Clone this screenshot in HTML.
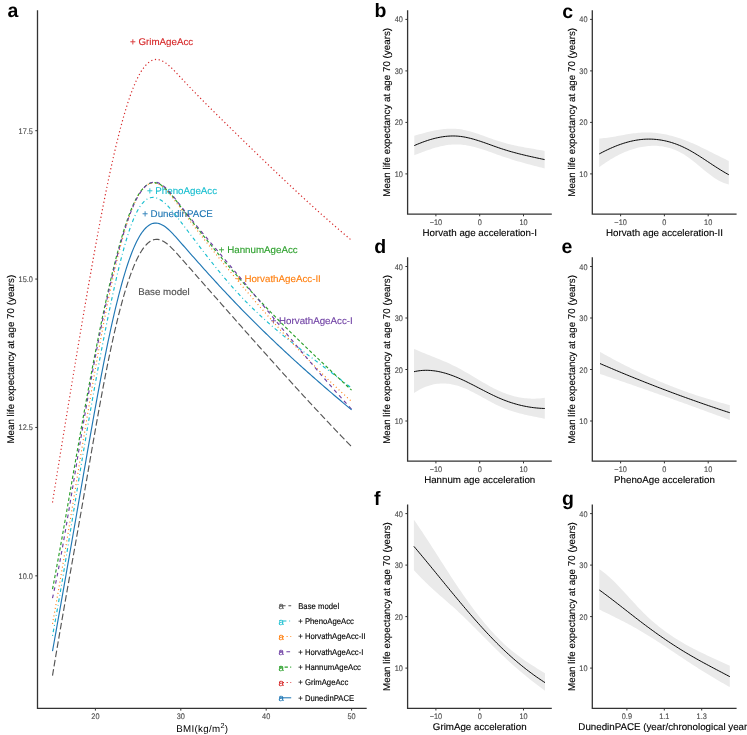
<!DOCTYPE html>
<html><head><meta charset="utf-8"><style>
html,body{margin:0;padding:0;background:#fff;width:747px;height:735px;overflow:hidden;}
body{position:relative;font-family:"Liberation Sans", sans-serif;}
</style></head><body>
<svg width="747" height="735" viewBox="0 0 747 735" style="position:absolute;left:0;top:0;will-change:transform">
<rect x="0" y="0" width="747" height="735" fill="#ffffff"/>
<g font-family='"Liberation Sans", sans-serif' text-rendering="geometricPrecision">
<text x="0" y="0" font-size="19.5" fill="#000" text-anchor="start" font-weight="bold" transform="translate(7.60,17.40)">a</text>
<text x="0" y="0" font-size="19.5" fill="#000" text-anchor="start" font-weight="bold" transform="translate(374.60,17.30)">b</text>
<text x="0" y="0" font-size="19.5" fill="#000" text-anchor="start" font-weight="bold" transform="translate(562.20,17.50)">c</text>
<text x="0" y="0" font-size="19.5" fill="#000" text-anchor="start" font-weight="bold" transform="translate(374.30,252.90)">d</text>
<text x="0" y="0" font-size="19.5" fill="#000" text-anchor="start" font-weight="bold" transform="translate(561.60,252.90)">e</text>
<text x="0" y="0" font-size="19.5" fill="#000" text-anchor="start" font-weight="bold" transform="translate(374.00,505.20)">f</text>
<text x="0" y="0" font-size="19.5" fill="#000" text-anchor="start" font-weight="bold" transform="translate(562.00,505.20)">g</text>
<path d="M37.5,10.2 L37.5,708.4 L366.7,708.4" fill="none" stroke="#333" stroke-width="1.3" stroke-linecap="butt"/>
<line x1="35.3" y1="575.83" x2="37.5" y2="575.83" stroke="#333333" stroke-width="1"/>
<text x="0" y="0" font-size="7.35" fill="#4D4D4D" stroke="#4D4D4D" stroke-width="0.12" text-anchor="end" font-weight="normal" transform="translate(32.90,578.83) scale(1,1.1)">10.0</text>
<line x1="35.3" y1="427.45" x2="37.5" y2="427.45" stroke="#333333" stroke-width="1"/>
<text x="0" y="0" font-size="7.35" fill="#4D4D4D" stroke="#4D4D4D" stroke-width="0.12" text-anchor="end" font-weight="normal" transform="translate(32.90,430.45) scale(1,1.1)">12.5</text>
<line x1="35.3" y1="279.07" x2="37.5" y2="279.07" stroke="#333333" stroke-width="1"/>
<text x="0" y="0" font-size="7.35" fill="#4D4D4D" stroke="#4D4D4D" stroke-width="0.12" text-anchor="end" font-weight="normal" transform="translate(32.90,282.07) scale(1,1.1)">15.0</text>
<line x1="35.3" y1="130.70" x2="37.5" y2="130.70" stroke="#333333" stroke-width="1"/>
<text x="0" y="0" font-size="7.35" fill="#4D4D4D" stroke="#4D4D4D" stroke-width="0.12" text-anchor="end" font-weight="normal" transform="translate(32.90,133.70) scale(1,1.1)">17.5</text>
<line x1="95.40" y1="708.4" x2="95.40" y2="710.6" stroke="#333333" stroke-width="1"/>
<text x="0" y="0" font-size="7.35" fill="#4D4D4D" stroke="#4D4D4D" stroke-width="0.12" text-anchor="middle" font-weight="normal" transform="translate(95.40,718.80) scale(1,1.1)">20</text>
<line x1="180.80" y1="708.4" x2="180.80" y2="710.6" stroke="#333333" stroke-width="1"/>
<text x="0" y="0" font-size="7.35" fill="#4D4D4D" stroke="#4D4D4D" stroke-width="0.12" text-anchor="middle" font-weight="normal" transform="translate(180.80,718.80) scale(1,1.1)">30</text>
<line x1="266.20" y1="708.4" x2="266.20" y2="710.6" stroke="#333333" stroke-width="1"/>
<text x="0" y="0" font-size="7.35" fill="#4D4D4D" stroke="#4D4D4D" stroke-width="0.12" text-anchor="middle" font-weight="normal" transform="translate(266.20,718.80) scale(1,1.1)">40</text>
<line x1="351.60" y1="708.4" x2="351.60" y2="710.6" stroke="#333333" stroke-width="1"/>
<text x="0" y="0" font-size="7.35" fill="#4D4D4D" stroke="#4D4D4D" stroke-width="0.12" text-anchor="middle" font-weight="normal" transform="translate(351.60,718.80) scale(1,1.1)">50</text>
<text x="0" y="0" font-size="9.75" fill="#000" text-anchor="middle" letter-spacing="0.3" transform="translate(202.3,731.7)">BMI(kg/m<tspan font-size="7.3" dy="-3.9">2</tspan><tspan dy="3.9">)</tspan></text>
<text x="0" y="0" font-size="9.8" fill="#000" stroke="#000" stroke-width="0.12" text-anchor="middle" font-weight="normal" transform="translate(14.20,359.20) rotate(-90)">Mean life expectancy at age 70 (years)</text>
<text x="0" y="0" font-size="9.75" fill="#D62728" stroke="#D62728" stroke-width="0.12" text-anchor="middle" font-weight="normal" transform="translate(161.60,45.20)">+ GrimAgeAcc</text>
<text x="0" y="0" font-size="9.75" fill="#17BECF" stroke="#17BECF" stroke-width="0.12" text-anchor="middle" font-weight="normal" transform="translate(182.00,193.90)">+ PhenoAgeAcc</text>
<text x="0" y="0" font-size="9.75" fill="#1F77B4" stroke="#1F77B4" stroke-width="0.12" text-anchor="middle" font-weight="normal" transform="translate(177.50,217.10)">+ DunedinPACE</text>
<text x="0" y="0" font-size="9.75" fill="#2CA02C" stroke="#2CA02C" stroke-width="0.12" text-anchor="middle" font-weight="normal" transform="translate(258.20,253.00)">+ HannumAgeAcc</text>
<text x="0" y="0" font-size="9.75" fill="#FF7F0E" stroke="#FF7F0E" stroke-width="0.12" text-anchor="middle" font-weight="normal" transform="translate(278.40,282.30)">+ HorvathAgeAcc-II</text>
<text x="0" y="0" font-size="9.75" fill="#4D4D4D" stroke="#4D4D4D" stroke-width="0.12" text-anchor="middle" font-weight="normal" transform="translate(163.90,294.80)">Base model</text>
<text x="0" y="0" font-size="9.75" fill="#6E3FA3" stroke="#6E3FA3" stroke-width="0.12" text-anchor="middle" font-weight="normal" transform="translate(311.70,323.70)">+ HorvathAgeAcc-I</text>
<path d="M52.50,675.66 L54.00,666.54 L55.51,657.53 L57.01,648.62 L58.51,639.80 L60.02,631.06 L61.52,622.40 L63.02,613.79 L64.52,605.24 L66.03,596.74 L67.53,588.26 L69.03,579.81 L70.54,571.38 L72.04,562.95 L73.54,554.52 L75.05,546.08 L76.55,537.61 L78.05,529.11 L79.55,520.57 L81.06,511.98 L82.56,503.34 L84.06,494.67 L85.57,485.98 L87.07,477.28 L88.57,468.59 L90.08,459.92 L91.58,451.27 L93.08,442.67 L94.58,434.13 L96.09,425.65 L97.59,417.25 L99.09,408.95 L100.60,400.76 L102.10,392.68 L103.60,384.73 L105.11,376.93 L106.61,369.28 L108.11,361.81 L109.61,354.51 L111.12,347.41 L112.62,340.51 L114.12,333.81 L115.63,327.32 L117.13,321.04 L118.63,314.97 L120.14,309.12 L121.64,303.48 L123.14,298.07 L124.64,292.88 L126.15,287.92 L127.65,283.19 L129.15,278.69 L130.66,274.43 L132.16,270.42 L133.66,266.64 L135.17,263.11 L136.67,259.83 L138.17,256.80 L139.67,254.02 L141.18,251.48 L142.68,249.19 L144.18,247.13 L145.69,245.32 L147.19,243.75 L148.69,242.42 L150.20,241.33 L151.70,240.47 L153.20,239.84 L154.71,239.45 L156.21,239.30 L157.71,239.36 L159.21,239.63 L160.72,240.09 L162.22,240.73 L163.72,241.53 L165.23,242.49 L166.73,243.58 L168.23,244.80 L169.74,246.13 L171.24,247.55 L172.74,249.05 L174.24,250.62 L175.75,252.25 L177.25,253.91 L178.75,255.60 L180.26,257.31 L181.76,259.01 L183.26,260.71 L184.77,262.42 L186.27,264.12 L187.77,265.83 L189.27,267.53 L190.78,269.24 L192.28,270.94 L193.78,272.65 L195.29,274.35 L196.79,276.06 L198.29,277.76 L199.80,279.47 L201.30,281.17 L202.80,282.88 L204.30,284.59 L205.81,286.29 L207.31,288.00 L208.81,289.70 L210.32,291.41 L211.82,293.11 L213.32,294.82 L214.83,296.52 L216.33,298.23 L217.83,299.93 L219.33,301.64 L220.84,303.34 L222.34,305.05 L223.84,306.75 L225.35,308.46 L226.85,310.16 L228.35,311.86 L229.86,313.57 L231.36,315.27 L232.86,316.97 L234.36,318.67 L235.87,320.37 L237.37,322.07 L238.87,323.77 L240.38,325.47 L241.88,327.17 L243.38,328.87 L244.89,330.57 L246.39,332.27 L247.89,333.96 L249.39,335.66 L250.90,337.35 L252.40,339.04 L253.90,340.74 L255.41,342.43 L256.91,344.12 L258.41,345.81 L259.92,347.50 L261.42,349.18 L262.92,350.87 L264.43,352.55 L265.93,354.24 L267.43,355.92 L268.93,357.60 L270.44,359.28 L271.94,360.96 L273.44,362.63 L274.95,364.31 L276.45,365.98 L277.95,367.65 L279.46,369.32 L280.96,370.99 L282.46,372.65 L283.96,374.32 L285.47,375.98 L286.97,377.64 L288.47,379.30 L289.98,380.96 L291.48,382.61 L292.98,384.26 L294.49,385.91 L295.99,387.56 L297.49,389.21 L298.99,390.85 L300.50,392.49 L302.00,394.13 L303.50,395.77 L305.01,397.41 L306.51,399.04 L308.01,400.67 L309.52,402.30 L311.02,403.92 L312.52,405.54 L314.02,407.16 L315.53,408.78 L317.03,410.39 L318.53,412.00 L320.04,413.61 L321.54,415.22 L323.04,416.82 L324.55,418.42 L326.05,420.02 L327.55,421.61 L329.05,423.20 L330.56,424.79 L332.06,426.38 L333.56,427.96 L335.07,429.54 L336.57,431.11 L338.07,432.68 L339.58,434.25 L341.08,435.82 L342.58,437.38 L344.08,438.94 L345.59,440.49 L347.09,442.04 L348.59,443.59 L350.10,445.13 L351.60,446.68" fill="none" stroke="#555555" stroke-width="1.15" stroke-dasharray="6.6 2.8"/>
<path d="M52.50,635.83 L54.00,627.76 L55.51,619.51 L57.01,611.10 L58.51,602.55 L60.02,593.86 L61.52,585.05 L63.02,576.14 L64.52,567.14 L66.03,558.06 L67.53,548.91 L69.03,539.72 L70.54,530.48 L72.04,521.23 L73.54,511.96 L75.05,502.71 L76.55,493.46 L78.05,484.25 L79.55,475.09 L81.06,465.98 L82.56,456.94 L84.06,447.97 L85.57,439.08 L87.07,430.25 L88.57,421.51 L90.08,412.85 L91.58,404.28 L93.08,395.79 L94.58,387.40 L96.09,379.10 L97.59,370.91 L99.09,362.81 L100.60,354.83 L102.10,346.95 L103.60,339.19 L105.11,331.54 L106.61,324.01 L108.11,316.61 L109.61,309.33 L111.12,302.19 L112.62,295.18 L114.12,288.33 L115.63,281.64 L117.13,275.13 L118.63,268.81 L120.14,262.69 L121.64,256.78 L123.14,251.11 L124.64,245.67 L126.15,240.48 L127.65,235.55 L129.15,230.90 L130.66,226.54 L132.16,222.48 L133.66,218.73 L135.17,215.31 L136.67,212.22 L138.17,209.46 L139.67,207.00 L141.18,204.86 L142.68,203.01 L144.18,201.44 L145.69,200.14 L147.19,199.11 L148.69,198.33 L150.20,197.79 L151.70,197.49 L153.20,197.41 L154.71,197.54 L156.21,197.87 L157.71,198.40 L159.21,199.10 L160.72,199.97 L162.22,200.99 L163.72,202.16 L165.23,203.46 L166.73,204.88 L168.23,206.41 L169.74,208.03 L171.24,209.74 L172.74,211.52 L174.24,213.36 L175.75,215.25 L177.25,217.18 L178.75,219.14 L180.26,221.11 L181.76,223.08 L183.26,225.06 L184.77,227.04 L186.27,229.02 L187.77,231.01 L189.27,232.99 L190.78,234.98 L192.28,236.96 L193.78,238.95 L195.29,240.93 L196.79,242.90 L198.29,244.88 L199.80,246.85 L201.30,248.81 L202.80,250.77 L204.30,252.72 L205.81,254.67 L207.31,256.61 L208.81,258.54 L210.32,260.46 L211.82,262.36 L213.32,264.26 L214.83,266.15 L216.33,268.02 L217.83,269.89 L219.33,271.73 L220.84,273.57 L222.34,275.39 L223.84,277.19 L225.35,278.98 L226.85,280.74 L228.35,282.50 L229.86,284.23 L231.36,285.94 L232.86,287.63 L234.36,289.31 L235.87,290.97 L237.37,292.60 L238.87,294.23 L240.38,295.83 L241.88,297.41 L243.38,298.98 L244.89,300.53 L246.39,302.07 L247.89,303.59 L249.39,305.09 L250.90,306.58 L252.40,308.06 L253.90,309.52 L255.41,310.96 L256.91,312.39 L258.41,313.81 L259.92,315.21 L261.42,316.60 L262.92,317.98 L264.43,319.34 L265.93,320.70 L267.43,322.04 L268.93,323.37 L270.44,324.69 L271.94,325.99 L273.44,327.29 L274.95,328.58 L276.45,329.86 L277.95,331.12 L279.46,332.38 L280.96,333.63 L282.46,334.87 L283.96,336.10 L285.47,337.33 L286.97,338.55 L288.47,339.75 L289.98,340.96 L291.48,342.15 L292.98,343.34 L294.49,344.53 L295.99,345.70 L297.49,346.88 L298.99,348.04 L300.50,349.21 L302.00,350.36 L303.50,351.52 L305.01,352.67 L306.51,353.81 L308.01,354.96 L309.52,356.10 L311.02,357.24 L312.52,358.37 L314.02,359.51 L315.53,360.64 L317.03,361.77 L318.53,362.90 L320.04,364.03 L321.54,365.16 L323.04,366.29 L324.55,367.42 L326.05,368.55 L327.55,369.68 L329.05,370.81 L330.56,371.95 L332.06,373.08 L333.56,374.22 L335.07,375.36 L336.57,376.51 L338.07,377.65 L339.58,378.80 L341.08,379.96 L342.58,381.12 L344.08,382.28 L345.59,383.45 L347.09,384.62 L348.59,385.80 L350.10,386.99 L351.60,388.18" fill="none" stroke="#17BECF" stroke-width="1.15" stroke-dasharray="0.9 2.8 3.7 2.8"/>
<path d="M52.50,623.79 L54.00,615.55 L55.51,607.19 L57.01,598.70 L58.51,590.10 L60.02,581.40 L61.52,572.60 L63.02,563.72 L64.52,554.76 L66.03,545.74 L67.53,536.66 L69.03,527.52 L70.54,518.35 L72.04,509.15 L73.54,499.92 L75.05,490.68 L76.55,481.44 L78.05,472.20 L79.55,462.98 L81.06,453.78 L82.56,444.61 L84.06,435.48 L85.57,426.40 L87.07,417.37 L88.57,408.40 L90.08,399.50 L91.58,390.67 L93.08,381.93 L94.58,373.29 L96.09,364.74 L97.59,356.29 L99.09,347.96 L100.60,339.75 L102.10,331.67 L103.60,323.73 L105.11,315.93 L106.61,308.29 L108.11,300.80 L109.61,293.48 L111.12,286.33 L112.62,279.36 L114.12,272.59 L115.63,266.00 L117.13,259.63 L118.63,253.46 L120.14,247.51 L121.64,241.79 L123.14,236.30 L124.64,231.05 L126.15,226.05 L127.65,221.30 L129.15,216.81 L130.66,212.60 L132.16,208.66 L133.66,205.00 L135.17,201.64 L136.67,198.57 L138.17,195.79 L139.67,193.30 L141.18,191.10 L142.68,189.17 L144.18,187.50 L145.69,186.11 L147.19,184.97 L148.69,184.09 L150.20,183.46 L151.70,183.07 L153.20,182.92 L154.71,183.00 L156.21,183.31 L157.71,183.84 L159.21,184.57 L160.72,185.48 L162.22,186.56 L163.72,187.81 L165.23,189.20 L166.73,190.72 L168.23,192.35 L169.74,194.09 L171.24,195.91 L172.74,197.81 L174.24,199.76 L175.75,201.76 L177.25,203.79 L178.75,205.84 L180.26,207.89 L181.76,209.93 L183.26,211.96 L184.77,213.98 L186.27,216.00 L187.77,218.00 L189.27,220.00 L190.78,221.98 L192.28,223.96 L193.78,225.93 L195.29,227.89 L196.79,229.85 L198.29,231.79 L199.80,233.73 L201.30,235.66 L202.80,237.59 L204.30,239.50 L205.81,241.41 L207.31,243.31 L208.81,245.21 L210.32,247.10 L211.82,248.99 L213.32,250.86 L214.83,252.73 L216.33,254.60 L217.83,256.46 L219.33,258.32 L220.84,260.17 L222.34,262.01 L223.84,263.85 L225.35,265.69 L226.85,267.52 L228.35,269.35 L229.86,271.17 L231.36,272.99 L232.86,274.81 L234.36,276.62 L235.87,278.42 L237.37,280.23 L238.87,282.03 L240.38,283.82 L241.88,285.61 L243.38,287.40 L244.89,289.18 L246.39,290.96 L247.89,292.73 L249.39,294.50 L250.90,296.26 L252.40,298.02 L253.90,299.77 L255.41,301.52 L256.91,303.27 L258.41,305.01 L259.92,306.74 L261.42,308.47 L262.92,310.20 L264.43,311.92 L265.93,313.63 L267.43,315.34 L268.93,317.05 L270.44,318.75 L271.94,320.44 L273.44,322.13 L274.95,323.82 L276.45,325.50 L277.95,327.17 L279.46,328.84 L280.96,330.50 L282.46,332.15 L283.96,333.80 L285.47,335.45 L286.97,337.09 L288.47,338.72 L289.98,340.35 L291.48,341.97 L292.98,343.59 L294.49,345.20 L295.99,346.80 L297.49,348.40 L298.99,349.99 L300.50,351.57 L302.00,353.15 L303.50,354.73 L305.01,356.29 L306.51,357.85 L308.01,359.41 L309.52,360.95 L311.02,362.49 L312.52,364.03 L314.02,365.55 L315.53,367.07 L317.03,368.59 L318.53,370.09 L320.04,371.59 L321.54,373.09 L323.04,374.57 L324.55,376.05 L326.05,377.53 L327.55,378.99 L329.05,380.45 L330.56,381.90 L332.06,383.34 L333.56,384.78 L335.07,386.21 L336.57,387.63 L338.07,389.04 L339.58,390.45 L341.08,391.85 L342.58,393.24 L344.08,394.62 L345.59,396.00 L347.09,397.37 L348.59,398.73 L350.10,400.08 L351.60,401.43" fill="none" stroke="#FF7F0E" stroke-width="1.15" stroke-dasharray="1 2.8"/>
<path d="M52.50,589.08 L54.00,581.24 L55.51,573.29 L57.01,565.22 L58.51,557.06 L60.02,548.81 L61.52,540.48 L63.02,532.08 L64.52,523.62 L66.03,515.11 L67.53,506.56 L69.03,497.98 L70.54,489.38 L72.04,480.77 L73.54,472.16 L75.05,463.56 L76.55,454.97 L78.05,446.42 L79.55,437.91 L81.06,429.44 L82.56,421.03 L84.06,412.68 L85.57,404.40 L87.07,396.18 L88.57,388.04 L90.08,379.98 L91.58,372.00 L93.08,364.11 L94.58,356.32 L96.09,348.62 L97.59,341.03 L99.09,333.54 L100.60,326.17 L102.10,318.91 L103.60,311.78 L105.11,304.77 L106.61,297.90 L108.11,291.16 L109.61,284.57 L111.12,278.12 L112.62,271.82 L114.12,265.69 L115.63,259.72 L117.13,253.92 L118.63,248.31 L120.14,242.89 L121.64,237.66 L123.14,232.63 L124.64,227.82 L126.15,223.22 L127.65,218.85 L129.15,214.71 L130.66,210.81 L132.16,207.15 L133.66,203.75 L135.17,200.60 L136.67,197.72 L138.17,195.11 L139.67,192.75 L141.18,190.65 L142.68,188.80 L144.18,187.20 L145.69,185.84 L147.19,184.72 L148.69,183.85 L150.20,183.20 L151.70,182.79 L153.20,182.60 L154.71,182.64 L156.21,182.89 L157.71,183.35 L159.21,184.01 L160.72,184.85 L162.22,185.86 L163.72,187.02 L165.23,188.32 L166.73,189.75 L168.23,191.29 L169.74,192.93 L171.24,194.66 L172.74,196.46 L174.24,198.32 L175.75,200.23 L177.25,202.18 L178.75,204.14 L180.26,206.10 L181.76,208.07 L183.26,210.03 L184.77,211.98 L186.27,213.93 L187.77,215.87 L189.27,217.81 L190.78,219.74 L192.28,221.66 L193.78,223.58 L195.29,225.49 L196.79,227.40 L198.29,229.30 L199.80,231.19 L201.30,233.08 L202.80,234.96 L204.30,236.83 L205.81,238.70 L207.31,240.56 L208.81,242.42 L210.32,244.26 L211.82,246.10 L213.32,247.93 L214.83,249.76 L216.33,251.58 L217.83,253.38 L219.33,255.19 L220.84,256.98 L222.34,258.77 L223.84,260.55 L225.35,262.32 L226.85,264.08 L228.35,265.83 L229.86,267.58 L231.36,269.31 L232.86,271.04 L234.36,272.76 L235.87,274.47 L237.37,276.18 L238.87,277.87 L240.38,279.56 L241.88,281.24 L243.38,282.92 L244.89,284.58 L246.39,286.24 L247.89,287.89 L249.39,289.53 L250.90,291.17 L252.40,292.80 L253.90,294.42 L255.41,296.04 L256.91,297.64 L258.41,299.25 L259.92,300.84 L261.42,302.43 L262.92,304.01 L264.43,305.59 L265.93,307.16 L267.43,308.73 L268.93,310.29 L270.44,311.84 L271.94,313.39 L273.44,314.93 L274.95,316.47 L276.45,318.00 L277.95,319.52 L279.46,321.05 L280.96,322.56 L282.46,324.07 L283.96,325.58 L285.47,327.08 L286.97,328.58 L288.47,330.07 L289.98,331.56 L291.48,333.05 L292.98,334.53 L294.49,336.00 L295.99,337.48 L297.49,338.94 L298.99,340.41 L300.50,341.87 L302.00,343.33 L303.50,344.78 L305.01,346.23 L306.51,347.68 L308.01,349.13 L309.52,350.57 L311.02,352.01 L312.52,353.44 L314.02,354.88 L315.53,356.31 L317.03,357.74 L318.53,359.16 L320.04,360.59 L321.54,362.01 L323.04,363.43 L324.55,364.85 L326.05,366.27 L327.55,367.68 L329.05,369.09 L330.56,370.51 L332.06,371.92 L333.56,373.33 L335.07,374.73 L336.57,376.14 L338.07,377.55 L339.58,378.95 L341.08,380.36 L342.58,381.76 L344.08,383.17 L345.59,384.57 L347.09,385.97 L348.59,387.37 L350.10,388.78 L351.60,390.18" fill="none" stroke="#2CA02C" stroke-width="1.15" stroke-dasharray="3.3 2.3"/>
<path d="M52.50,598.16 L54.00,591.27 L55.51,584.07 L57.01,576.59 L58.51,568.86 L60.02,560.88 L61.52,552.70 L63.02,544.32 L64.52,535.77 L66.03,527.08 L67.53,518.26 L69.03,509.33 L70.54,500.33 L72.04,491.28 L73.54,482.18 L75.05,473.08 L76.55,463.98 L78.05,454.92 L79.55,445.91 L81.06,436.97 L82.56,428.12 L84.06,419.37 L85.57,410.70 L87.07,402.13 L88.57,393.66 L90.08,385.30 L91.58,377.04 L93.08,368.89 L94.58,360.85 L96.09,352.93 L97.59,345.14 L99.09,337.46 L100.60,329.92 L102.10,322.50 L103.60,315.23 L105.11,308.08 L106.61,301.08 L108.11,294.23 L109.61,287.52 L111.12,280.97 L112.62,274.57 L114.12,268.34 L115.63,262.28 L117.13,256.40 L118.63,250.69 L120.14,245.18 L121.64,239.86 L123.14,234.75 L124.64,229.84 L126.15,225.15 L127.65,220.67 L129.15,216.43 L130.66,212.42 L132.16,208.64 L133.66,205.12 L135.17,201.84 L136.67,198.83 L138.17,196.06 L139.67,193.56 L141.18,191.30 L142.68,189.30 L144.18,187.54 L145.69,186.04 L147.19,184.78 L148.69,183.76 L150.20,182.98 L151.70,182.45 L153.20,182.15 L154.71,182.09 L156.21,182.27 L157.71,182.66 L159.21,183.27 L160.72,184.07 L162.22,185.04 L163.72,186.19 L165.23,187.47 L166.73,188.90 L168.23,190.44 L169.74,192.08 L171.24,193.82 L172.74,195.62 L174.24,197.49 L175.75,199.40 L177.25,201.34 L178.75,203.29 L180.26,205.25 L181.76,207.19 L183.26,209.12 L184.77,211.04 L186.27,212.94 L187.77,214.84 L189.27,216.73 L190.78,218.60 L192.28,220.47 L193.78,222.32 L195.29,224.17 L196.79,226.01 L198.29,227.84 L199.80,229.67 L201.30,231.49 L202.80,233.30 L204.30,235.11 L205.81,236.91 L207.31,238.71 L208.81,240.50 L210.32,242.29 L211.82,244.07 L213.32,245.86 L214.83,247.64 L216.33,249.41 L217.83,251.19 L219.33,252.97 L220.84,254.74 L222.34,256.52 L223.84,258.29 L225.35,260.07 L226.85,261.84 L228.35,263.62 L229.86,265.41 L231.36,267.19 L232.86,268.98 L234.36,270.77 L235.87,272.56 L237.37,274.35 L238.87,276.15 L240.38,277.95 L241.88,279.75 L243.38,281.55 L244.89,283.36 L246.39,285.17 L247.89,286.97 L249.39,288.78 L250.90,290.60 L252.40,292.41 L253.90,294.22 L255.41,296.04 L256.91,297.85 L258.41,299.67 L259.92,301.49 L261.42,303.30 L262.92,305.12 L264.43,306.94 L265.93,308.76 L267.43,310.58 L268.93,312.40 L270.44,314.22 L271.94,316.04 L273.44,317.86 L274.95,319.68 L276.45,321.49 L277.95,323.31 L279.46,325.13 L280.96,326.94 L282.46,328.76 L283.96,330.57 L285.47,332.39 L286.97,334.20 L288.47,336.01 L289.98,337.82 L291.48,339.62 L292.98,341.43 L294.49,343.23 L295.99,345.03 L297.49,346.83 L298.99,348.63 L300.50,350.43 L302.00,352.22 L303.50,354.01 L305.01,355.80 L306.51,357.58 L308.01,359.36 L309.52,361.14 L311.02,362.92 L312.52,364.69 L314.02,366.46 L315.53,368.23 L317.03,369.99 L318.53,371.75 L320.04,373.51 L321.54,375.26 L323.04,377.01 L324.55,378.75 L326.05,380.49 L327.55,382.23 L329.05,383.96 L330.56,385.68 L332.06,387.41 L333.56,389.12 L335.07,390.84 L336.57,392.54 L338.07,394.25 L339.58,395.94 L341.08,397.64 L342.58,399.32 L344.08,401.00 L345.59,402.68 L347.09,404.35 L348.59,406.01 L350.10,407.67 L351.60,409.32" fill="none" stroke="#6E3FA3" stroke-width="1.15" stroke-dasharray="3.7 3.7"/>
<path d="M52.50,502.48 L54.00,493.09 L55.51,483.73 L57.01,474.39 L58.51,465.08 L60.02,455.80 L61.52,446.55 L63.02,437.32 L64.52,428.13 L66.03,418.96 L67.53,409.82 L69.03,400.70 L70.54,391.62 L72.04,382.57 L73.54,373.54 L75.05,364.54 L76.55,355.58 L78.05,346.64 L79.55,337.73 L81.06,328.85 L82.56,320.00 L84.06,311.20 L85.57,302.45 L87.07,293.74 L88.57,285.10 L90.08,276.53 L91.58,268.03 L93.08,259.61 L94.58,251.28 L96.09,243.05 L97.59,234.91 L99.09,226.88 L100.60,218.97 L102.10,211.17 L103.60,203.51 L105.11,195.97 L106.61,188.58 L108.11,181.33 L109.61,174.24 L111.12,167.31 L112.62,160.55 L114.12,153.96 L115.63,147.54 L117.13,141.31 L118.63,135.27 L120.14,129.43 L121.64,123.79 L123.14,118.36 L124.64,113.14 L126.15,108.13 L127.65,103.36 L129.15,98.82 L130.66,94.51 L132.16,90.45 L133.66,86.63 L135.17,83.07 L136.67,79.77 L138.17,76.73 L139.67,73.94 L141.18,71.41 L142.68,69.12 L144.18,67.09 L145.69,65.30 L147.19,63.75 L148.69,62.44 L150.20,61.38 L151.70,60.55 L153.20,59.95 L154.71,59.58 L156.21,59.45 L157.71,59.53 L159.21,59.81 L160.72,60.28 L162.22,60.93 L163.72,61.73 L165.23,62.69 L166.73,63.77 L168.23,64.97 L169.74,66.27 L171.24,67.67 L172.74,69.14 L174.24,70.66 L175.75,72.24 L177.25,73.84 L178.75,75.47 L180.26,77.09 L181.76,78.71 L183.26,80.32 L184.77,81.92 L186.27,83.52 L187.77,85.11 L189.27,86.69 L190.78,88.26 L192.28,89.82 L193.78,91.38 L195.29,92.94 L196.79,94.48 L198.29,96.02 L199.80,97.56 L201.30,99.09 L202.80,100.61 L204.30,102.13 L205.81,103.64 L207.31,105.15 L208.81,106.66 L210.32,108.16 L211.82,109.66 L213.32,111.16 L214.83,112.65 L216.33,114.14 L217.83,115.62 L219.33,117.10 L220.84,118.59 L222.34,120.07 L223.84,121.54 L225.35,123.02 L226.85,124.49 L228.35,125.97 L229.86,127.44 L231.36,128.91 L232.86,130.38 L234.36,131.85 L235.87,133.33 L237.37,134.80 L238.87,136.26 L240.38,137.73 L241.88,139.20 L243.38,140.67 L244.89,142.13 L246.39,143.60 L247.89,145.06 L249.39,146.52 L250.90,147.98 L252.40,149.44 L253.90,150.90 L255.41,152.36 L256.91,153.82 L258.41,155.27 L259.92,156.72 L261.42,158.17 L262.92,159.62 L264.43,161.07 L265.93,162.52 L267.43,163.96 L268.93,165.41 L270.44,166.85 L271.94,168.29 L273.44,169.72 L274.95,171.16 L276.45,172.59 L277.95,174.02 L279.46,175.45 L280.96,176.88 L282.46,178.30 L283.96,179.72 L285.47,181.14 L286.97,182.56 L288.47,183.97 L289.98,185.38 L291.48,186.79 L292.98,188.20 L294.49,189.60 L295.99,191.00 L297.49,192.40 L298.99,193.80 L300.50,195.19 L302.00,196.58 L303.50,197.96 L305.01,199.35 L306.51,200.72 L308.01,202.10 L309.52,203.47 L311.02,204.84 L312.52,206.21 L314.02,207.57 L315.53,208.93 L317.03,210.29 L318.53,211.64 L320.04,212.99 L321.54,214.34 L323.04,215.68 L324.55,217.01 L326.05,218.35 L327.55,219.68 L329.05,221.00 L330.56,222.32 L332.06,223.64 L333.56,224.96 L335.07,226.26 L336.57,227.57 L338.07,228.87 L339.58,230.17 L341.08,231.46 L342.58,232.75 L344.08,234.03 L345.59,235.31 L347.09,236.58 L348.59,237.85 L350.10,239.11 L351.60,240.37" fill="none" stroke="#D62728" stroke-width="1.2" stroke-dasharray="1.2 2.6"/>
<path d="M52.50,651.18 L54.00,642.76 L55.51,634.32 L57.01,625.86 L58.51,617.38 L60.02,608.89 L61.52,600.37 L63.02,591.85 L64.52,583.30 L66.03,574.74 L67.53,566.17 L69.03,557.58 L70.54,548.98 L72.04,540.37 L73.54,531.75 L75.05,523.12 L76.55,514.48 L78.05,505.83 L79.55,497.17 L81.06,488.50 L82.56,479.84 L84.06,471.18 L85.57,462.54 L87.07,453.93 L88.57,445.35 L90.08,436.82 L91.58,428.35 L93.08,419.94 L94.58,411.60 L96.09,403.34 L97.59,395.18 L99.09,387.12 L100.60,379.16 L102.10,371.33 L103.60,363.63 L105.11,356.06 L106.61,348.64 L108.11,341.38 L109.61,334.28 L111.12,327.36 L112.62,320.62 L114.12,314.07 L115.63,307.70 L117.13,301.54 L118.63,295.57 L120.14,289.81 L121.64,284.27 L123.14,278.94 L124.64,273.83 L126.15,268.95 L127.65,264.30 L129.15,259.89 L130.66,255.72 L132.16,251.80 L133.66,248.13 L135.17,244.72 L136.67,241.57 L138.17,238.68 L139.67,236.04 L141.18,233.66 L142.68,231.52 L144.18,229.64 L145.69,227.99 L147.19,226.59 L148.69,225.43 L150.20,224.49 L151.70,223.79 L153.20,223.32 L154.71,223.07 L156.21,223.04 L157.71,223.23 L159.21,223.60 L160.72,224.17 L162.22,224.90 L163.72,225.79 L165.23,226.82 L166.73,227.98 L168.23,229.26 L169.74,230.64 L171.24,232.11 L172.74,233.66 L174.24,235.27 L175.75,236.92 L177.25,238.62 L178.75,240.33 L180.26,242.06 L181.76,243.78 L183.26,245.50 L184.77,247.22 L186.27,248.93 L187.77,250.65 L189.27,252.36 L190.78,254.06 L192.28,255.77 L193.78,257.47 L195.29,259.16 L196.79,260.86 L198.29,262.55 L199.80,264.23 L201.30,265.92 L202.80,267.60 L204.30,269.27 L205.81,270.94 L207.31,272.61 L208.81,274.27 L210.32,275.93 L211.82,277.58 L213.32,279.23 L214.83,280.87 L216.33,282.51 L217.83,284.15 L219.33,285.77 L220.84,287.40 L222.34,289.02 L223.84,290.63 L225.35,292.23 L226.85,293.84 L228.35,295.43 L229.86,297.02 L231.36,298.61 L232.86,300.18 L234.36,301.75 L235.87,303.32 L237.37,304.88 L238.87,306.44 L240.38,307.98 L241.88,309.53 L243.38,311.06 L244.89,312.60 L246.39,314.12 L247.89,315.64 L249.39,317.16 L250.90,318.67 L252.40,320.17 L253.90,321.67 L255.41,323.16 L256.91,324.65 L258.41,326.14 L259.92,327.61 L261.42,329.09 L262.92,330.56 L264.43,332.02 L265.93,333.48 L267.43,334.93 L268.93,336.38 L270.44,337.82 L271.94,339.26 L273.44,340.69 L274.95,342.12 L276.45,343.55 L277.95,344.97 L279.46,346.38 L280.96,347.79 L282.46,349.20 L283.96,350.60 L285.47,352.00 L286.97,353.39 L288.47,354.78 L289.98,356.17 L291.48,357.55 L292.98,358.92 L294.49,360.30 L295.99,361.67 L297.49,363.03 L298.99,364.39 L300.50,365.75 L302.00,367.10 L303.50,368.45 L305.01,369.79 L306.51,371.13 L308.01,372.47 L309.52,373.80 L311.02,375.13 L312.52,376.46 L314.02,377.78 L315.53,379.10 L317.03,380.42 L318.53,381.73 L320.04,383.04 L321.54,384.35 L323.04,385.65 L324.55,386.95 L326.05,388.25 L327.55,389.54 L329.05,390.83 L330.56,392.12 L332.06,393.41 L333.56,394.69 L335.07,395.97 L336.57,397.24 L338.07,398.51 L339.58,399.78 L341.08,401.05 L342.58,402.32 L344.08,403.58 L345.59,404.84 L347.09,406.10 L348.59,407.35 L350.10,408.60 L351.60,409.86" fill="none" stroke="#1F77B4" stroke-width="1.15"/>
<text x="0" y="0" font-size="9.7" fill="#555555" stroke="#555555" stroke-width="0.12" text-anchor="start" font-weight="normal" transform="translate(278.60,609.20)">a</text>
<line x1="279" y1="605.70" x2="291.2" y2="605.70" stroke="#555555" stroke-width="1.05" stroke-dasharray="6.6 2.8"/>
<text x="0" y="0" font-size="7.75" fill="#000" stroke="#000" stroke-width="0.12" text-anchor="start" font-weight="normal" transform="translate(298.20,608.70) scale(1,1.08)">Base model</text>
<text x="0" y="0" font-size="9.7" fill="#17BECF" stroke="#17BECF" stroke-width="0.12" text-anchor="start" font-weight="normal" transform="translate(278.60,624.55)">a</text>
<line x1="279" y1="621.05" x2="291.2" y2="621.05" stroke="#17BECF" stroke-width="1.05" stroke-dasharray="0.9 2.8 3.7 2.8"/>
<text x="0" y="0" font-size="7.75" fill="#000" stroke="#000" stroke-width="0.12" text-anchor="start" font-weight="normal" transform="translate(298.20,624.05) scale(1,1.08)">+ PhenoAgeAcc</text>
<text x="0" y="0" font-size="9.7" fill="#FF7F0E" stroke="#FF7F0E" stroke-width="0.12" text-anchor="start" font-weight="normal" transform="translate(278.60,639.90)">a</text>
<line x1="279" y1="636.40" x2="291.2" y2="636.40" stroke="#FF7F0E" stroke-width="1.05" stroke-dasharray="1 2.8"/>
<text x="0" y="0" font-size="7.75" fill="#000" stroke="#000" stroke-width="0.12" text-anchor="start" font-weight="normal" transform="translate(298.20,639.40) scale(1,1.08)">+ HorvathAgeAcc-II</text>
<text x="0" y="0" font-size="9.7" fill="#6E3FA3" stroke="#6E3FA3" stroke-width="0.12" text-anchor="start" font-weight="normal" transform="translate(278.60,655.25)">a</text>
<line x1="279" y1="651.75" x2="291.2" y2="651.75" stroke="#6E3FA3" stroke-width="1.05" stroke-dasharray="3.7 3.7"/>
<text x="0" y="0" font-size="7.75" fill="#000" stroke="#000" stroke-width="0.12" text-anchor="start" font-weight="normal" transform="translate(298.20,654.75) scale(1,1.08)">+ HorvathAgeAcc-I</text>
<text x="0" y="0" font-size="9.7" fill="#2CA02C" stroke="#2CA02C" stroke-width="0.12" text-anchor="start" font-weight="normal" transform="translate(278.60,670.60)">a</text>
<line x1="279" y1="667.10" x2="291.2" y2="667.10" stroke="#2CA02C" stroke-width="1.05" stroke-dasharray="3.3 2.3"/>
<text x="0" y="0" font-size="7.75" fill="#000" stroke="#000" stroke-width="0.12" text-anchor="start" font-weight="normal" transform="translate(298.20,670.10) scale(1,1.08)">+ HannumAgeAcc</text>
<text x="0" y="0" font-size="9.7" fill="#D62728" stroke="#D62728" stroke-width="0.12" text-anchor="start" font-weight="normal" transform="translate(278.60,685.95)">a</text>
<line x1="279" y1="682.45" x2="291.2" y2="682.45" stroke="#D62728" stroke-width="1.05" stroke-dasharray="1.2 2.6"/>
<text x="0" y="0" font-size="7.75" fill="#000" stroke="#000" stroke-width="0.12" text-anchor="start" font-weight="normal" transform="translate(298.20,685.45) scale(1,1.08)">+ GrimAgeAcc</text>
<text x="0" y="0" font-size="9.7" fill="#1F77B4" stroke="#1F77B4" stroke-width="0.12" text-anchor="start" font-weight="normal" transform="translate(278.60,701.30)">a</text>
<line x1="279" y1="697.80" x2="291.2" y2="697.80" stroke="#1F77B4" stroke-width="1.05"/>
<text x="0" y="0" font-size="7.75" fill="#000" stroke="#000" stroke-width="0.12" text-anchor="start" font-weight="normal" transform="translate(298.20,700.80) scale(1,1.08)">+ DunedinPACE</text>
<path d="M414.30,135.84 L415.95,135.34 L417.60,134.85 L419.25,134.37 L420.90,133.89 L422.55,133.43 L424.20,132.97 L425.85,132.53 L427.49,132.10 L429.14,131.69 L430.79,131.30 L432.44,130.93 L434.09,130.58 L435.74,130.26 L437.39,129.96 L439.04,129.69 L440.69,129.44 L442.34,129.23 L443.99,129.04 L445.64,128.90 L447.29,128.78 L448.94,128.71 L450.59,128.67 L452.24,128.67 L453.88,128.72 L455.53,128.80 L457.18,128.94 L458.83,129.12 L460.48,129.35 L462.13,129.62 L463.78,129.93 L465.43,130.27 L467.08,130.66 L468.73,131.07 L470.38,131.52 L472.03,131.99 L473.68,132.49 L475.33,133.01 L476.98,133.55 L478.63,134.11 L480.27,134.68 L481.92,135.26 L483.57,135.84 L485.22,136.44 L486.87,137.04 L488.52,137.64 L490.17,138.23 L491.82,138.82 L493.47,139.41 L495.12,139.98 L496.77,140.54 L498.42,141.09 L500.07,141.61 L501.72,142.12 L503.37,142.60 L505.02,143.06 L506.66,143.51 L508.31,143.93 L509.96,144.34 L511.61,144.73 L513.26,145.10 L514.91,145.46 L516.56,145.81 L518.21,146.14 L519.86,146.47 L521.51,146.79 L523.16,147.09 L524.81,147.39 L526.46,147.69 L528.11,147.98 L529.76,148.26 L531.41,148.55 L533.05,148.83 L534.70,149.11 L536.35,149.40 L538.00,149.68 L539.65,149.97 L541.30,150.27 L542.95,150.57 L544.60,150.88 L544.60,168.39 L542.95,167.99 L541.30,167.59 L539.65,167.18 L538.00,166.76 L536.35,166.34 L534.70,165.92 L533.05,165.49 L531.41,165.06 L529.76,164.62 L528.11,164.18 L526.46,163.73 L524.81,163.28 L523.16,162.81 L521.51,162.35 L519.86,161.87 L518.21,161.39 L516.56,160.90 L514.91,160.40 L513.26,159.90 L511.61,159.39 L509.96,158.87 L508.31,158.34 L506.66,157.80 L505.02,157.26 L503.37,156.70 L501.72,156.14 L500.07,155.56 L498.42,154.98 L496.77,154.39 L495.12,153.80 L493.47,153.21 L491.82,152.62 L490.17,152.03 L488.52,151.44 L486.87,150.87 L485.22,150.30 L483.57,149.75 L481.92,149.21 L480.27,148.69 L478.63,148.19 L476.98,147.70 L475.33,147.25 L473.68,146.81 L472.03,146.41 L470.38,146.04 L468.73,145.70 L467.08,145.39 L465.43,145.12 L463.78,144.89 L462.13,144.70 L460.48,144.56 L458.83,144.46 L457.18,144.41 L455.53,144.41 L453.88,144.46 L452.24,144.55 L450.59,144.69 L448.94,144.87 L447.29,145.09 L445.64,145.35 L443.99,145.65 L442.34,145.98 L440.69,146.34 L439.04,146.74 L437.39,147.17 L435.74,147.62 L434.09,148.10 L432.44,148.61 L430.79,149.13 L429.14,149.68 L427.49,150.25 L425.85,150.84 L424.20,151.44 L422.55,152.05 L420.90,152.68 L419.25,153.32 L417.60,153.96 L415.95,154.62 L414.30,155.27 Z" fill="#EAEAEA" stroke="none"/>
<path d="M414.30,145.58 L415.95,144.87 L417.60,144.17 L419.25,143.50 L420.90,142.85 L422.55,142.22 L424.20,141.62 L425.85,141.04 L427.49,140.48 L429.14,139.95 L430.79,139.45 L432.44,138.98 L434.09,138.54 L435.74,138.13 L437.39,137.75 L439.04,137.41 L440.69,137.10 L442.34,136.82 L443.99,136.58 L445.64,136.38 L447.29,136.22 L448.94,136.10 L450.59,136.02 L452.24,135.97 L453.88,135.98 L455.53,136.02 L457.18,136.12 L458.83,136.25 L460.48,136.43 L462.13,136.66 L463.78,136.92 L465.43,137.23 L467.08,137.57 L468.73,137.94 L470.38,138.34 L472.03,138.77 L473.68,139.23 L475.33,139.71 L476.98,140.21 L478.63,140.74 L480.27,141.28 L481.92,141.83 L483.57,142.40 L485.22,142.97 L486.87,143.56 L488.52,144.15 L490.17,144.74 L491.82,145.34 L493.47,145.93 L495.12,146.52 L496.77,147.10 L498.42,147.67 L500.07,148.24 L501.72,148.79 L503.37,149.32 L505.02,149.85 L506.66,150.35 L508.31,150.85 L509.96,151.33 L511.61,151.80 L513.26,152.26 L514.91,152.71 L516.56,153.15 L518.21,153.58 L519.86,154.00 L521.51,154.41 L523.16,154.82 L524.81,155.21 L526.46,155.60 L528.11,155.99 L529.76,156.36 L531.41,156.73 L533.05,157.10 L534.70,157.46 L536.35,157.82 L538.00,158.18 L539.65,158.53 L541.30,158.88 L542.95,159.23 L544.60,159.58" fill="none" stroke="#000" stroke-width="0.98"/>
<path d="M407.6,10.20 L407.6,214.10 L551.8,214.10" fill="none" stroke="#333" stroke-width="1.3"/>
<line x1="405.40000000000003" y1="173.90" x2="407.6" y2="173.90" stroke="#333333" stroke-width="1"/>
<text x="0" y="0" font-size="7.35" fill="#4D4D4D" stroke="#4D4D4D" stroke-width="0.12" text-anchor="end" font-weight="normal" transform="translate(402.80,176.90) scale(1,1.1)">10</text>
<line x1="405.40000000000003" y1="122.40" x2="407.6" y2="122.40" stroke="#333333" stroke-width="1"/>
<text x="0" y="0" font-size="7.35" fill="#4D4D4D" stroke="#4D4D4D" stroke-width="0.12" text-anchor="end" font-weight="normal" transform="translate(402.80,125.40) scale(1,1.1)">20</text>
<line x1="405.40000000000003" y1="70.90" x2="407.6" y2="70.90" stroke="#333333" stroke-width="1"/>
<text x="0" y="0" font-size="7.35" fill="#4D4D4D" stroke="#4D4D4D" stroke-width="0.12" text-anchor="end" font-weight="normal" transform="translate(402.80,73.90) scale(1,1.1)">30</text>
<line x1="405.40000000000003" y1="19.40" x2="407.6" y2="19.40" stroke="#333333" stroke-width="1"/>
<text x="0" y="0" font-size="7.35" fill="#4D4D4D" stroke="#4D4D4D" stroke-width="0.12" text-anchor="end" font-weight="normal" transform="translate(402.80,22.40) scale(1,1.1)">40</text>
<line x1="435.90" y1="214.10" x2="435.90" y2="216.30" stroke="#333333" stroke-width="1"/>
<text x="0" y="0" font-size="7.35" fill="#4D4D4D" stroke="#4D4D4D" stroke-width="0.12" text-anchor="middle" font-weight="normal" transform="translate(435.90,224.70) scale(1,1.1)">−10</text>
<line x1="479.70" y1="214.10" x2="479.70" y2="216.30" stroke="#333333" stroke-width="1"/>
<text x="0" y="0" font-size="7.35" fill="#4D4D4D" stroke="#4D4D4D" stroke-width="0.12" text-anchor="middle" font-weight="normal" transform="translate(479.70,224.70) scale(1,1.1)">0</text>
<line x1="523.50" y1="214.10" x2="523.50" y2="216.30" stroke="#333333" stroke-width="1"/>
<text x="0" y="0" font-size="7.35" fill="#4D4D4D" stroke="#4D4D4D" stroke-width="0.12" text-anchor="middle" font-weight="normal" transform="translate(523.50,224.70) scale(1,1.1)">10</text>
<text x="0" y="0" font-size="9.75" fill="#000" stroke="#000" stroke-width="0.12" text-anchor="middle" font-weight="normal" transform="translate(479.70,235.60)">Horvath age acceleration-I</text>
<text x="0" y="0" font-size="9.8" fill="#000" stroke="#000" stroke-width="0.12" text-anchor="middle" font-weight="normal" transform="translate(390.00,112.35) rotate(-90)">Mean life expectancy at age 70 (years)</text>
<path d="M599.20,138.51 L600.84,138.39 L602.48,138.25 L604.12,138.08 L605.76,137.89 L607.40,137.68 L609.04,137.45 L610.68,137.20 L612.32,136.94 L613.96,136.66 L615.61,136.38 L617.25,136.09 L618.89,135.79 L620.53,135.50 L622.17,135.20 L623.81,134.91 L625.45,134.62 L627.09,134.34 L628.73,134.06 L630.37,133.81 L632.01,133.56 L633.65,133.33 L635.29,133.13 L636.93,132.94 L638.57,132.78 L640.21,132.65 L641.85,132.54 L643.49,132.47 L645.13,132.42 L646.77,132.41 L648.42,132.44 L650.06,132.49 L651.70,132.57 L653.34,132.68 L654.98,132.82 L656.62,133.00 L658.26,133.20 L659.90,133.43 L661.54,133.68 L663.18,133.97 L664.82,134.28 L666.46,134.62 L668.10,134.98 L669.74,135.38 L671.38,135.79 L673.02,136.24 L674.66,136.70 L676.30,137.20 L677.94,137.71 L679.58,138.25 L681.23,138.81 L682.87,139.40 L684.51,140.01 L686.15,140.64 L687.79,141.29 L689.43,141.97 L691.07,142.66 L692.71,143.37 L694.35,144.09 L695.99,144.84 L697.63,145.59 L699.27,146.36 L700.91,147.14 L702.55,147.93 L704.19,148.73 L705.83,149.54 L707.47,150.35 L709.11,151.17 L710.75,151.99 L712.39,152.82 L714.04,153.64 L715.68,154.47 L717.32,155.30 L718.96,156.12 L720.60,156.94 L722.24,157.76 L723.88,158.57 L725.52,159.37 L727.16,160.17 L728.80,160.96 L728.80,184.43 L727.16,184.08 L725.52,183.62 L723.88,183.04 L722.24,182.36 L720.60,181.58 L718.96,180.71 L717.32,179.77 L715.68,178.75 L714.04,177.66 L712.39,176.51 L710.75,175.31 L709.11,174.07 L707.47,172.78 L705.83,171.47 L704.19,170.13 L702.55,168.78 L700.91,167.42 L699.27,166.05 L697.63,164.69 L695.99,163.34 L694.35,162.02 L692.71,160.71 L691.07,159.45 L689.43,158.22 L687.79,157.04 L686.15,155.92 L684.51,154.86 L682.87,153.87 L681.23,152.93 L679.58,152.06 L677.94,151.26 L676.30,150.51 L674.66,149.82 L673.02,149.19 L671.38,148.62 L669.74,148.10 L668.10,147.64 L666.46,147.23 L664.82,146.88 L663.18,146.58 L661.54,146.33 L659.90,146.13 L658.26,145.97 L656.62,145.87 L654.98,145.81 L653.34,145.80 L651.70,145.84 L650.06,145.91 L648.42,146.03 L646.77,146.20 L645.13,146.40 L643.49,146.64 L641.85,146.92 L640.21,147.24 L638.57,147.60 L636.93,148.00 L635.29,148.43 L633.65,148.90 L632.01,149.41 L630.37,149.95 L628.73,150.53 L627.09,151.15 L625.45,151.81 L623.81,152.50 L622.17,153.23 L620.53,154.00 L618.89,154.80 L617.25,155.64 L615.61,156.52 L613.96,157.43 L612.32,158.38 L610.68,159.37 L609.04,160.39 L607.40,161.45 L605.76,162.54 L604.12,163.67 L602.48,164.83 L600.84,166.03 L599.20,167.27 Z" fill="#EAEAEA" stroke="none"/>
<path d="M599.20,153.97 L600.84,153.09 L602.48,152.23 L604.12,151.39 L605.76,150.57 L607.40,149.78 L609.04,149.01 L610.68,148.27 L612.32,147.55 L613.96,146.85 L615.61,146.18 L617.25,145.53 L618.89,144.92 L620.53,144.33 L622.17,143.77 L623.81,143.23 L625.45,142.73 L627.09,142.26 L628.73,141.81 L630.37,141.40 L632.01,141.02 L633.65,140.67 L635.29,140.36 L636.93,140.08 L638.57,139.83 L640.21,139.62 L641.85,139.44 L643.49,139.30 L645.13,139.20 L646.77,139.13 L648.42,139.10 L650.06,139.10 L651.70,139.15 L653.34,139.22 L654.98,139.34 L656.62,139.49 L658.26,139.68 L659.90,139.90 L661.54,140.16 L663.18,140.46 L664.82,140.79 L666.46,141.16 L668.10,141.57 L669.74,142.01 L671.38,142.49 L673.02,143.01 L674.66,143.57 L676.30,144.16 L677.94,144.79 L679.58,145.46 L681.23,146.16 L682.87,146.90 L684.51,147.68 L686.15,148.49 L687.79,149.34 L689.43,150.23 L691.07,151.14 L692.71,152.09 L694.35,153.06 L695.99,154.05 L697.63,155.07 L699.27,156.10 L700.91,157.15 L702.55,158.21 L704.19,159.28 L705.83,160.36 L707.47,161.44 L709.11,162.52 L710.75,163.61 L712.39,164.69 L714.04,165.77 L715.68,166.83 L717.32,167.89 L718.96,168.93 L720.60,169.96 L722.24,170.97 L723.88,171.95 L725.52,172.92 L727.16,173.85 L728.80,174.76" fill="none" stroke="#000" stroke-width="0.98"/>
<path d="M592.3,10.20 L592.3,214.10 L736.6,214.10" fill="none" stroke="#333" stroke-width="1.3"/>
<line x1="590.0999999999999" y1="173.90" x2="592.3" y2="173.90" stroke="#333333" stroke-width="1"/>
<text x="0" y="0" font-size="7.35" fill="#4D4D4D" stroke="#4D4D4D" stroke-width="0.12" text-anchor="end" font-weight="normal" transform="translate(587.50,176.90) scale(1,1.1)">10</text>
<line x1="590.0999999999999" y1="122.40" x2="592.3" y2="122.40" stroke="#333333" stroke-width="1"/>
<text x="0" y="0" font-size="7.35" fill="#4D4D4D" stroke="#4D4D4D" stroke-width="0.12" text-anchor="end" font-weight="normal" transform="translate(587.50,125.40) scale(1,1.1)">20</text>
<line x1="590.0999999999999" y1="70.90" x2="592.3" y2="70.90" stroke="#333333" stroke-width="1"/>
<text x="0" y="0" font-size="7.35" fill="#4D4D4D" stroke="#4D4D4D" stroke-width="0.12" text-anchor="end" font-weight="normal" transform="translate(587.50,73.90) scale(1,1.1)">30</text>
<line x1="590.0999999999999" y1="19.40" x2="592.3" y2="19.40" stroke="#333333" stroke-width="1"/>
<text x="0" y="0" font-size="7.35" fill="#4D4D4D" stroke="#4D4D4D" stroke-width="0.12" text-anchor="end" font-weight="normal" transform="translate(587.50,22.40) scale(1,1.1)">40</text>
<line x1="620.60" y1="214.10" x2="620.60" y2="216.30" stroke="#333333" stroke-width="1"/>
<text x="0" y="0" font-size="7.35" fill="#4D4D4D" stroke="#4D4D4D" stroke-width="0.12" text-anchor="middle" font-weight="normal" transform="translate(620.60,224.70) scale(1,1.1)">−10</text>
<line x1="664.40" y1="214.10" x2="664.40" y2="216.30" stroke="#333333" stroke-width="1"/>
<text x="0" y="0" font-size="7.35" fill="#4D4D4D" stroke="#4D4D4D" stroke-width="0.12" text-anchor="middle" font-weight="normal" transform="translate(664.40,224.70) scale(1,1.1)">0</text>
<line x1="708.20" y1="214.10" x2="708.20" y2="216.30" stroke="#333333" stroke-width="1"/>
<text x="0" y="0" font-size="7.35" fill="#4D4D4D" stroke="#4D4D4D" stroke-width="0.12" text-anchor="middle" font-weight="normal" transform="translate(708.20,224.70) scale(1,1.1)">10</text>
<text x="0" y="0" font-size="9.75" fill="#000" stroke="#000" stroke-width="0.12" text-anchor="middle" font-weight="normal" transform="translate(664.45,235.60)">Horvath age acceleration-II</text>
<text x="0" y="0" font-size="9.8" fill="#000" stroke="#000" stroke-width="0.12" text-anchor="middle" font-weight="normal" transform="translate(574.70,112.35) rotate(-90)">Mean life expectancy at age 70 (years)</text>
<path d="M414.00,348.89 L415.66,349.62 L417.31,350.33 L418.97,351.03 L420.62,351.72 L422.28,352.41 L423.93,353.08 L425.59,353.75 L427.25,354.41 L428.90,355.08 L430.56,355.74 L432.21,356.40 L433.87,357.06 L435.52,357.72 L437.18,358.39 L438.84,359.07 L440.49,359.75 L442.15,360.45 L443.80,361.15 L445.46,361.87 L447.11,362.59 L448.77,363.34 L450.43,364.10 L452.08,364.88 L453.74,365.68 L455.39,366.50 L457.05,367.34 L458.70,368.20 L460.36,369.09 L462.02,370.00 L463.67,370.93 L465.33,371.88 L466.98,372.84 L468.64,373.81 L470.29,374.78 L471.95,375.77 L473.61,376.76 L475.26,377.75 L476.92,378.75 L478.57,379.73 L480.23,380.72 L481.88,381.70 L483.54,382.67 L485.19,383.62 L486.85,384.57 L488.51,385.49 L490.16,386.40 L491.82,387.29 L493.47,388.15 L495.13,388.99 L496.78,389.80 L498.44,390.58 L500.10,391.32 L501.75,392.04 L503.41,392.71 L505.06,393.35 L506.72,393.95 L508.37,394.52 L510.03,395.05 L511.69,395.54 L513.34,396.00 L515.00,396.42 L516.65,396.81 L518.31,397.16 L519.96,397.47 L521.62,397.75 L523.28,397.99 L524.93,398.19 L526.59,398.36 L528.24,398.49 L529.90,398.59 L531.55,398.65 L533.21,398.68 L534.87,398.67 L536.52,398.62 L538.18,398.54 L539.83,398.42 L541.49,398.27 L543.14,398.08 L544.80,397.86 L544.80,418.71 L543.14,418.38 L541.49,418.06 L539.83,417.74 L538.18,417.41 L536.52,417.09 L534.87,416.77 L533.21,416.44 L531.55,416.10 L529.90,415.76 L528.24,415.40 L526.59,415.04 L524.93,414.67 L523.28,414.28 L521.62,413.87 L519.96,413.45 L518.31,413.02 L516.65,412.56 L515.00,412.08 L513.34,411.58 L511.69,411.05 L510.03,410.50 L508.37,409.92 L506.72,409.31 L505.06,408.68 L503.41,408.01 L501.75,407.30 L500.10,406.57 L498.44,405.80 L496.78,405.00 L495.13,404.17 L493.47,403.32 L491.82,402.45 L490.16,401.57 L488.51,400.67 L486.85,399.76 L485.19,398.84 L483.54,397.93 L481.88,397.01 L480.23,396.10 L478.57,395.19 L476.92,394.30 L475.26,393.41 L473.61,392.55 L471.95,391.71 L470.29,390.89 L468.64,390.09 L466.98,389.33 L465.33,388.60 L463.67,387.91 L462.02,387.26 L460.36,386.66 L458.70,386.10 L457.05,385.59 L455.39,385.13 L453.74,384.73 L452.08,384.38 L450.43,384.09 L448.77,383.86 L447.11,383.68 L445.46,383.56 L443.80,383.49 L442.15,383.49 L440.49,383.54 L438.84,383.65 L437.18,383.83 L435.52,384.07 L433.87,384.36 L432.21,384.73 L430.56,385.15 L428.90,385.64 L427.25,386.19 L425.59,386.81 L423.93,387.50 L422.28,388.25 L420.62,389.07 L418.97,389.95 L417.31,390.91 L415.66,391.94 L414.00,393.03 Z" fill="#EAEAEA" stroke="none"/>
<path d="M414.00,371.71 L415.66,371.35 L417.31,371.04 L418.97,370.79 L420.62,370.59 L422.28,370.44 L423.93,370.35 L425.59,370.30 L427.25,370.31 L428.90,370.36 L430.56,370.46 L432.21,370.61 L433.87,370.80 L435.52,371.03 L437.18,371.31 L438.84,371.62 L440.49,371.98 L442.15,372.37 L443.80,372.80 L445.46,373.26 L447.11,373.76 L448.77,374.30 L450.43,374.86 L452.08,375.46 L453.74,376.08 L455.39,376.73 L457.05,377.41 L458.70,378.12 L460.36,378.85 L462.02,379.60 L463.67,380.37 L465.33,381.15 L466.98,381.96 L468.64,382.78 L470.29,383.61 L471.95,384.45 L473.61,385.30 L475.26,386.15 L476.92,387.02 L478.57,387.88 L480.23,388.74 L481.88,389.60 L483.54,390.46 L485.19,391.32 L486.85,392.16 L488.51,393.00 L490.16,393.83 L491.82,394.64 L493.47,395.44 L495.13,396.23 L496.78,396.99 L498.44,397.73 L500.10,398.45 L501.75,399.15 L503.41,399.82 L505.06,400.47 L506.72,401.09 L508.37,401.68 L510.03,402.25 L511.69,402.79 L513.34,403.31 L515.00,403.81 L516.65,404.27 L518.31,404.72 L519.96,405.14 L521.62,405.53 L523.28,405.90 L524.93,406.24 L526.59,406.56 L528.24,406.86 L529.90,407.13 L531.55,407.38 L533.21,407.60 L534.87,407.80 L536.52,407.97 L538.18,408.12 L539.83,408.25 L541.49,408.35 L543.14,408.43 L544.80,408.48" fill="none" stroke="#000" stroke-width="0.98"/>
<path d="M407.6,257.30 L407.6,461.20 L551.8,461.20" fill="none" stroke="#333" stroke-width="1.3"/>
<line x1="405.40000000000003" y1="421.00" x2="407.6" y2="421.00" stroke="#333333" stroke-width="1"/>
<text x="0" y="0" font-size="7.35" fill="#4D4D4D" stroke="#4D4D4D" stroke-width="0.12" text-anchor="end" font-weight="normal" transform="translate(402.80,424.00) scale(1,1.1)">10</text>
<line x1="405.40000000000003" y1="369.50" x2="407.6" y2="369.50" stroke="#333333" stroke-width="1"/>
<text x="0" y="0" font-size="7.35" fill="#4D4D4D" stroke="#4D4D4D" stroke-width="0.12" text-anchor="end" font-weight="normal" transform="translate(402.80,372.50) scale(1,1.1)">20</text>
<line x1="405.40000000000003" y1="318.00" x2="407.6" y2="318.00" stroke="#333333" stroke-width="1"/>
<text x="0" y="0" font-size="7.35" fill="#4D4D4D" stroke="#4D4D4D" stroke-width="0.12" text-anchor="end" font-weight="normal" transform="translate(402.80,321.00) scale(1,1.1)">30</text>
<line x1="405.40000000000003" y1="266.50" x2="407.6" y2="266.50" stroke="#333333" stroke-width="1"/>
<text x="0" y="0" font-size="7.35" fill="#4D4D4D" stroke="#4D4D4D" stroke-width="0.12" text-anchor="end" font-weight="normal" transform="translate(402.80,269.50) scale(1,1.1)">40</text>
<line x1="435.90" y1="461.20" x2="435.90" y2="463.40" stroke="#333333" stroke-width="1"/>
<text x="0" y="0" font-size="7.35" fill="#4D4D4D" stroke="#4D4D4D" stroke-width="0.12" text-anchor="middle" font-weight="normal" transform="translate(435.90,471.80) scale(1,1.1)">−10</text>
<line x1="479.70" y1="461.20" x2="479.70" y2="463.40" stroke="#333333" stroke-width="1"/>
<text x="0" y="0" font-size="7.35" fill="#4D4D4D" stroke="#4D4D4D" stroke-width="0.12" text-anchor="middle" font-weight="normal" transform="translate(479.70,471.80) scale(1,1.1)">0</text>
<line x1="523.50" y1="461.20" x2="523.50" y2="463.40" stroke="#333333" stroke-width="1"/>
<text x="0" y="0" font-size="7.35" fill="#4D4D4D" stroke="#4D4D4D" stroke-width="0.12" text-anchor="middle" font-weight="normal" transform="translate(523.50,471.80) scale(1,1.1)">10</text>
<text x="0" y="0" font-size="9.75" fill="#000" stroke="#000" stroke-width="0.12" text-anchor="middle" font-weight="normal" transform="translate(479.70,482.70)">Hannum age acceleration</text>
<text x="0" y="0" font-size="9.8" fill="#000" stroke="#000" stroke-width="0.12" text-anchor="middle" font-weight="normal" transform="translate(390.00,359.45) rotate(-90)">Mean life expectancy at age 70 (years)</text>
<path d="M600.00,351.90 L601.64,352.83 L603.29,353.75 L604.93,354.66 L606.57,355.57 L608.22,356.47 L609.86,357.37 L611.50,358.26 L613.14,359.14 L614.79,360.02 L616.43,360.89 L618.07,361.75 L619.72,362.61 L621.36,363.46 L623.00,364.30 L624.65,365.14 L626.29,365.97 L627.93,366.79 L629.57,367.61 L631.22,368.42 L632.86,369.22 L634.50,370.02 L636.15,370.81 L637.79,371.60 L639.43,372.37 L641.08,373.14 L642.72,373.91 L644.36,374.67 L646.01,375.42 L647.65,376.16 L649.29,376.90 L650.93,377.63 L652.58,378.36 L654.22,379.08 L655.86,379.79 L657.51,380.50 L659.15,381.19 L660.79,381.89 L662.44,382.57 L664.08,383.25 L665.72,383.92 L667.36,384.59 L669.01,385.25 L670.65,385.90 L672.29,386.55 L673.94,387.19 L675.58,387.82 L677.22,388.45 L678.87,389.07 L680.51,389.68 L682.15,390.29 L683.79,390.89 L685.44,391.49 L687.08,392.07 L688.72,392.65 L690.37,393.23 L692.01,393.80 L693.65,394.36 L695.30,394.91 L696.94,395.46 L698.58,396.00 L700.23,396.54 L701.87,397.06 L703.51,397.59 L705.15,398.10 L706.80,398.61 L708.44,399.11 L710.08,399.61 L711.73,400.10 L713.37,400.58 L715.01,401.06 L716.66,401.53 L718.30,401.99 L719.94,402.44 L721.58,402.89 L723.23,403.34 L724.87,403.77 L726.51,404.20 L728.16,404.63 L729.80,405.04 L729.80,420.04 L728.16,419.42 L726.51,418.81 L724.87,418.20 L723.23,417.59 L721.58,416.98 L719.94,416.37 L718.30,415.77 L716.66,415.16 L715.01,414.55 L713.37,413.95 L711.73,413.34 L710.08,412.74 L708.44,412.13 L706.80,411.53 L705.15,410.93 L703.51,410.33 L701.87,409.73 L700.23,409.13 L698.58,408.53 L696.94,407.93 L695.30,407.33 L693.65,406.74 L692.01,406.14 L690.37,405.55 L688.72,404.95 L687.08,404.36 L685.44,403.76 L683.79,403.17 L682.15,402.58 L680.51,401.99 L678.87,401.40 L677.22,400.81 L675.58,400.22 L673.94,399.63 L672.29,399.05 L670.65,398.46 L669.01,397.87 L667.36,397.29 L665.72,396.70 L664.08,396.12 L662.44,395.54 L660.79,394.96 L659.15,394.38 L657.51,393.80 L655.86,393.22 L654.22,392.64 L652.58,392.06 L650.93,391.48 L649.29,390.90 L647.65,390.33 L646.01,389.75 L644.36,389.18 L642.72,388.60 L641.08,388.03 L639.43,387.46 L637.79,386.89 L636.15,386.32 L634.50,385.75 L632.86,385.18 L631.22,384.61 L629.57,384.04 L627.93,383.47 L626.29,382.91 L624.65,382.34 L623.00,381.78 L621.36,381.21 L619.72,380.65 L618.07,380.09 L616.43,379.52 L614.79,378.96 L613.14,378.40 L611.50,377.84 L609.86,377.28 L608.22,376.72 L606.57,376.17 L604.93,375.61 L603.29,375.05 L601.64,374.50 L600.00,373.94 Z" fill="#EAEAEA" stroke="none"/>
<path d="M600.00,363.56 L601.64,364.27 L603.29,364.97 L604.93,365.68 L606.57,366.38 L608.22,367.09 L609.86,367.78 L611.50,368.48 L613.14,369.18 L614.79,369.87 L616.43,370.56 L618.07,371.25 L619.72,371.93 L621.36,372.62 L623.00,373.30 L624.65,373.98 L626.29,374.65 L627.93,375.33 L629.57,376.00 L631.22,376.67 L632.86,377.34 L634.50,378.00 L636.15,378.66 L637.79,379.32 L639.43,379.98 L641.08,380.64 L642.72,381.29 L644.36,381.95 L646.01,382.60 L647.65,383.24 L649.29,383.89 L650.93,384.53 L652.58,385.17 L654.22,385.81 L655.86,386.44 L657.51,387.08 L659.15,387.71 L660.79,388.34 L662.44,388.97 L664.08,389.59 L665.72,390.21 L667.36,390.83 L669.01,391.45 L670.65,392.07 L672.29,392.68 L673.94,393.29 L675.58,393.90 L677.22,394.51 L678.87,395.11 L680.51,395.71 L682.15,396.31 L683.79,396.91 L685.44,397.51 L687.08,398.10 L688.72,398.69 L690.37,399.28 L692.01,399.87 L693.65,400.45 L695.30,401.03 L696.94,401.61 L698.58,402.19 L700.23,402.77 L701.87,403.34 L703.51,403.91 L705.15,404.48 L706.80,405.04 L708.44,405.61 L710.08,406.17 L711.73,406.73 L713.37,407.29 L715.01,407.84 L716.66,408.39 L718.30,408.94 L719.94,409.49 L721.58,410.04 L723.23,410.58 L724.87,411.12 L726.51,411.66 L728.16,412.20 L729.80,412.73" fill="none" stroke="#000" stroke-width="0.98"/>
<path d="M592.3,257.30 L592.3,461.20 L736.6,461.20" fill="none" stroke="#333" stroke-width="1.3"/>
<line x1="590.0999999999999" y1="421.00" x2="592.3" y2="421.00" stroke="#333333" stroke-width="1"/>
<text x="0" y="0" font-size="7.35" fill="#4D4D4D" stroke="#4D4D4D" stroke-width="0.12" text-anchor="end" font-weight="normal" transform="translate(587.50,424.00) scale(1,1.1)">10</text>
<line x1="590.0999999999999" y1="369.50" x2="592.3" y2="369.50" stroke="#333333" stroke-width="1"/>
<text x="0" y="0" font-size="7.35" fill="#4D4D4D" stroke="#4D4D4D" stroke-width="0.12" text-anchor="end" font-weight="normal" transform="translate(587.50,372.50) scale(1,1.1)">20</text>
<line x1="590.0999999999999" y1="318.00" x2="592.3" y2="318.00" stroke="#333333" stroke-width="1"/>
<text x="0" y="0" font-size="7.35" fill="#4D4D4D" stroke="#4D4D4D" stroke-width="0.12" text-anchor="end" font-weight="normal" transform="translate(587.50,321.00) scale(1,1.1)">30</text>
<line x1="590.0999999999999" y1="266.50" x2="592.3" y2="266.50" stroke="#333333" stroke-width="1"/>
<text x="0" y="0" font-size="7.35" fill="#4D4D4D" stroke="#4D4D4D" stroke-width="0.12" text-anchor="end" font-weight="normal" transform="translate(587.50,269.50) scale(1,1.1)">40</text>
<line x1="620.60" y1="461.20" x2="620.60" y2="463.40" stroke="#333333" stroke-width="1"/>
<text x="0" y="0" font-size="7.35" fill="#4D4D4D" stroke="#4D4D4D" stroke-width="0.12" text-anchor="middle" font-weight="normal" transform="translate(620.60,471.80) scale(1,1.1)">−10</text>
<line x1="664.40" y1="461.20" x2="664.40" y2="463.40" stroke="#333333" stroke-width="1"/>
<text x="0" y="0" font-size="7.35" fill="#4D4D4D" stroke="#4D4D4D" stroke-width="0.12" text-anchor="middle" font-weight="normal" transform="translate(664.40,471.80) scale(1,1.1)">0</text>
<line x1="708.20" y1="461.20" x2="708.20" y2="463.40" stroke="#333333" stroke-width="1"/>
<text x="0" y="0" font-size="7.35" fill="#4D4D4D" stroke="#4D4D4D" stroke-width="0.12" text-anchor="middle" font-weight="normal" transform="translate(708.20,471.80) scale(1,1.1)">10</text>
<text x="0" y="0" font-size="9.75" fill="#000" stroke="#000" stroke-width="0.12" text-anchor="middle" font-weight="normal" transform="translate(664.45,482.70)">PhenoAge acceleration</text>
<text x="0" y="0" font-size="9.8" fill="#000" stroke="#000" stroke-width="0.12" text-anchor="middle" font-weight="normal" transform="translate(574.70,359.45) rotate(-90)">Mean life expectancy at age 70 (years)</text>
<path d="M413.90,519.66 L415.56,522.05 L417.22,524.47 L418.88,526.91 L420.54,529.38 L422.20,531.87 L423.86,534.38 L425.52,536.91 L427.18,539.45 L428.84,542.01 L430.49,544.58 L432.15,547.16 L433.81,549.75 L435.47,552.35 L437.13,554.94 L438.79,557.54 L440.45,560.14 L442.11,562.74 L443.77,565.34 L445.43,567.92 L447.09,570.50 L448.75,573.07 L450.41,575.63 L452.07,578.17 L453.73,580.70 L455.39,583.21 L457.05,585.70 L458.71,588.16 L460.37,590.60 L462.03,593.02 L463.68,595.42 L465.34,597.78 L467.00,600.12 L468.66,602.44 L470.32,604.72 L471.98,606.98 L473.64,609.21 L475.30,611.40 L476.96,613.57 L478.62,615.70 L480.28,617.81 L481.94,619.87 L483.60,621.91 L485.26,623.91 L486.92,625.87 L488.58,627.80 L490.24,629.69 L491.90,631.55 L493.56,633.36 L495.22,635.14 L496.87,636.87 L498.53,638.57 L500.19,640.22 L501.85,641.84 L503.51,643.40 L505.17,644.93 L506.83,646.42 L508.49,647.88 L510.15,649.29 L511.81,650.67 L513.47,652.02 L515.13,653.33 L516.79,654.62 L518.45,655.87 L520.11,657.10 L521.77,658.30 L523.43,659.47 L525.09,660.63 L526.75,661.75 L528.41,662.86 L530.06,663.95 L531.72,665.03 L533.38,666.08 L535.04,667.12 L536.70,668.15 L538.36,669.16 L540.02,670.17 L541.68,671.16 L543.34,672.15 L545.00,673.13 L545.00,690.69 L543.34,689.49 L541.68,688.28 L540.02,687.06 L538.36,685.81 L536.70,684.56 L535.04,683.29 L533.38,682.00 L531.72,680.70 L530.06,679.39 L528.41,678.06 L526.75,676.72 L525.09,675.36 L523.43,673.98 L521.77,672.59 L520.11,671.19 L518.45,669.77 L516.79,668.34 L515.13,666.89 L513.47,665.42 L511.81,663.94 L510.15,662.45 L508.49,660.94 L506.83,659.41 L505.17,657.87 L503.51,656.31 L501.85,654.74 L500.19,653.15 L498.53,651.55 L496.87,649.93 L495.22,648.30 L493.56,646.66 L491.90,645.01 L490.24,643.36 L488.58,641.69 L486.92,640.03 L485.26,638.35 L483.60,636.68 L481.94,635.00 L480.28,633.32 L478.62,631.65 L476.96,629.98 L475.30,628.31 L473.64,626.65 L471.98,624.99 L470.32,623.34 L468.66,621.70 L467.00,620.07 L465.34,618.46 L463.68,616.85 L462.03,615.27 L460.37,613.70 L458.71,612.14 L457.05,610.61 L455.39,609.09 L453.73,607.59 L452.07,606.10 L450.41,604.63 L448.75,603.16 L447.09,601.70 L445.43,600.25 L443.77,598.80 L442.11,597.34 L440.45,595.89 L438.79,594.42 L437.13,592.95 L435.47,591.47 L433.81,589.98 L432.15,588.47 L430.49,586.95 L428.84,585.40 L427.18,583.84 L425.52,582.24 L423.86,580.62 L422.20,578.97 L420.54,577.29 L418.88,575.57 L417.22,573.82 L415.56,572.03 L413.90,570.19 Z" fill="#EAEAEA" stroke="none"/>
<path d="M413.90,546.36 L415.56,548.32 L417.22,550.29 L418.88,552.27 L420.54,554.25 L422.20,556.25 L423.86,558.24 L425.52,560.25 L427.18,562.26 L428.84,564.28 L430.49,566.29 L432.15,568.32 L433.81,570.34 L435.47,572.37 L437.13,574.40 L438.79,576.43 L440.45,578.46 L442.11,580.49 L443.77,582.51 L445.43,584.54 L447.09,586.56 L448.75,588.59 L450.41,590.60 L452.07,592.62 L453.73,594.62 L455.39,596.62 L457.05,598.62 L458.71,600.61 L460.37,602.59 L462.03,604.56 L463.68,606.53 L465.34,608.48 L467.00,610.43 L468.66,612.37 L470.32,614.29 L471.98,616.20 L473.64,618.11 L475.30,619.99 L476.96,621.87 L478.62,623.73 L480.28,625.58 L481.94,627.41 L483.60,629.23 L485.26,631.03 L486.92,632.82 L488.58,634.59 L490.24,636.34 L491.90,638.07 L493.56,639.79 L495.22,641.48 L496.87,643.16 L498.53,644.81 L500.19,646.45 L501.85,648.06 L503.51,649.65 L505.17,651.22 L506.83,652.77 L508.49,654.30 L510.15,655.80 L511.81,657.29 L513.47,658.75 L515.13,660.19 L516.79,661.61 L518.45,663.01 L520.11,664.39 L521.77,665.75 L523.43,667.08 L525.09,668.40 L526.75,669.69 L528.41,670.97 L530.06,672.22 L531.72,673.46 L533.38,674.67 L535.04,675.86 L536.70,677.04 L538.36,678.19 L540.02,679.32 L541.68,680.43 L543.34,681.53 L545.00,682.60" fill="none" stroke="#000" stroke-width="0.98"/>
<path d="M407.6,504.40 L407.6,708.30 L551.8,708.30" fill="none" stroke="#333" stroke-width="1.3"/>
<line x1="405.40000000000003" y1="668.10" x2="407.6" y2="668.10" stroke="#333333" stroke-width="1"/>
<text x="0" y="0" font-size="7.35" fill="#4D4D4D" stroke="#4D4D4D" stroke-width="0.12" text-anchor="end" font-weight="normal" transform="translate(402.80,671.10) scale(1,1.1)">10</text>
<line x1="405.40000000000003" y1="616.60" x2="407.6" y2="616.60" stroke="#333333" stroke-width="1"/>
<text x="0" y="0" font-size="7.35" fill="#4D4D4D" stroke="#4D4D4D" stroke-width="0.12" text-anchor="end" font-weight="normal" transform="translate(402.80,619.60) scale(1,1.1)">20</text>
<line x1="405.40000000000003" y1="565.10" x2="407.6" y2="565.10" stroke="#333333" stroke-width="1"/>
<text x="0" y="0" font-size="7.35" fill="#4D4D4D" stroke="#4D4D4D" stroke-width="0.12" text-anchor="end" font-weight="normal" transform="translate(402.80,568.10) scale(1,1.1)">30</text>
<line x1="405.40000000000003" y1="513.60" x2="407.6" y2="513.60" stroke="#333333" stroke-width="1"/>
<text x="0" y="0" font-size="7.35" fill="#4D4D4D" stroke="#4D4D4D" stroke-width="0.12" text-anchor="end" font-weight="normal" transform="translate(402.80,516.60) scale(1,1.1)">40</text>
<line x1="435.90" y1="708.30" x2="435.90" y2="710.50" stroke="#333333" stroke-width="1"/>
<text x="0" y="0" font-size="7.35" fill="#4D4D4D" stroke="#4D4D4D" stroke-width="0.12" text-anchor="middle" font-weight="normal" transform="translate(435.90,718.90) scale(1,1.1)">−10</text>
<line x1="479.70" y1="708.30" x2="479.70" y2="710.50" stroke="#333333" stroke-width="1"/>
<text x="0" y="0" font-size="7.35" fill="#4D4D4D" stroke="#4D4D4D" stroke-width="0.12" text-anchor="middle" font-weight="normal" transform="translate(479.70,718.90) scale(1,1.1)">0</text>
<line x1="523.50" y1="708.30" x2="523.50" y2="710.50" stroke="#333333" stroke-width="1"/>
<text x="0" y="0" font-size="7.35" fill="#4D4D4D" stroke="#4D4D4D" stroke-width="0.12" text-anchor="middle" font-weight="normal" transform="translate(523.50,718.90) scale(1,1.1)">10</text>
<text x="0" y="0" font-size="9.75" fill="#000" stroke="#000" stroke-width="0.12" text-anchor="middle" font-weight="normal" transform="translate(479.70,729.80)">GrimAge acceleration</text>
<text x="0" y="0" font-size="9.8" fill="#000" stroke="#000" stroke-width="0.12" text-anchor="middle" font-weight="normal" transform="translate(390.00,606.55) rotate(-90)">Mean life expectancy at age 70 (years)</text>
<path d="M599.30,569.19 L600.95,570.29 L602.60,571.48 L604.26,572.73 L605.91,574.06 L607.56,575.45 L609.21,576.90 L610.86,578.41 L612.52,579.97 L614.17,581.58 L615.82,583.23 L617.47,584.92 L619.12,586.64 L620.77,588.38 L622.43,590.15 L624.08,591.94 L625.73,593.75 L627.38,595.56 L629.03,597.38 L630.69,599.20 L632.34,601.02 L633.99,602.82 L635.64,604.61 L637.29,606.38 L638.95,608.13 L640.60,609.86 L642.25,611.54 L643.90,613.20 L645.55,614.81 L647.21,616.39 L648.86,617.93 L650.51,619.43 L652.16,620.90 L653.81,622.34 L655.46,623.74 L657.12,625.11 L658.77,626.44 L660.42,627.75 L662.07,629.03 L663.72,630.28 L665.38,631.49 L667.03,632.69 L668.68,633.85 L670.33,634.99 L671.98,636.10 L673.64,637.19 L675.29,638.26 L676.94,639.30 L678.59,640.32 L680.24,641.32 L681.89,642.30 L683.55,643.27 L685.20,644.21 L686.85,645.13 L688.50,646.04 L690.15,646.93 L691.81,647.81 L693.46,648.67 L695.11,649.52 L696.76,650.35 L698.41,651.18 L700.07,651.99 L701.72,652.79 L703.37,653.59 L705.02,654.37 L706.67,655.15 L708.33,655.92 L709.98,656.68 L711.63,657.44 L713.28,658.20 L714.93,658.95 L716.58,659.70 L718.24,660.44 L719.89,661.19 L721.54,661.94 L723.19,662.68 L724.84,663.43 L726.50,664.18 L728.15,664.94 L729.80,665.69 L729.80,687.06 L728.15,686.15 L726.50,685.23 L724.84,684.30 L723.19,683.36 L721.54,682.41 L719.89,681.46 L718.24,680.50 L716.58,679.53 L714.93,678.55 L713.28,677.56 L711.63,676.57 L709.98,675.57 L708.33,674.56 L706.67,673.55 L705.02,672.53 L703.37,671.50 L701.72,670.47 L700.07,669.43 L698.41,668.38 L696.76,667.33 L695.11,666.27 L693.46,665.21 L691.81,664.14 L690.15,663.06 L688.50,661.99 L686.85,660.90 L685.20,659.81 L683.55,658.72 L681.89,657.62 L680.24,656.52 L678.59,655.42 L676.94,654.31 L675.29,653.21 L673.64,652.10 L671.98,651.00 L670.33,649.89 L668.68,648.79 L667.03,647.69 L665.38,646.59 L663.72,645.50 L662.07,644.41 L660.42,643.32 L658.77,642.25 L657.12,641.17 L655.46,640.11 L653.81,639.05 L652.16,638.00 L650.51,636.96 L648.86,635.93 L647.21,634.92 L645.55,633.91 L643.90,632.91 L642.25,631.93 L640.60,630.96 L638.95,630.00 L637.29,629.05 L635.64,628.11 L633.99,627.19 L632.34,626.28 L630.69,625.37 L629.03,624.48 L627.38,623.59 L625.73,622.72 L624.08,621.85 L622.43,620.99 L620.77,620.14 L619.12,619.30 L617.47,618.46 L615.82,617.63 L614.17,616.80 L612.52,615.98 L610.86,615.17 L609.21,614.36 L607.56,613.55 L605.91,612.75 L604.26,611.95 L602.60,611.15 L600.95,610.36 L599.30,609.57 Z" fill="#EAEAEA" stroke="none"/>
<path d="M599.30,589.96 L600.95,591.16 L602.60,592.36 L604.26,593.58 L605.91,594.81 L607.56,596.05 L609.21,597.30 L610.86,598.55 L612.52,599.81 L614.17,601.08 L615.82,602.36 L617.47,603.64 L619.12,604.92 L620.77,606.21 L622.43,607.50 L624.08,608.79 L625.73,610.08 L627.38,611.37 L629.03,612.67 L630.69,613.96 L632.34,615.24 L633.99,616.53 L635.64,617.81 L637.29,619.08 L638.95,620.35 L640.60,621.61 L642.25,622.87 L643.90,624.12 L645.55,625.36 L647.21,626.59 L648.86,627.81 L650.51,629.02 L652.16,630.23 L653.81,631.42 L655.46,632.61 L657.12,633.79 L658.77,634.96 L660.42,636.11 L662.07,637.26 L663.72,638.40 L665.38,639.53 L667.03,640.65 L668.68,641.76 L670.33,642.86 L671.98,643.95 L673.64,645.02 L675.29,646.09 L676.94,647.15 L678.59,648.20 L680.24,649.23 L681.89,650.26 L683.55,651.27 L685.20,652.27 L686.85,653.26 L688.50,654.24 L690.15,655.21 L691.81,656.17 L693.46,657.12 L695.11,658.06 L696.76,658.99 L698.41,659.92 L700.07,660.83 L701.72,661.74 L703.37,662.64 L705.02,663.54 L706.67,664.43 L708.33,665.32 L709.98,666.20 L711.63,667.08 L713.28,667.96 L714.93,668.83 L716.58,669.70 L718.24,670.57 L719.89,671.44 L721.54,672.31 L723.19,673.18 L724.84,674.05 L726.50,674.92 L728.15,675.79 L729.80,676.67" fill="none" stroke="#000" stroke-width="0.98"/>
<path d="M592.3,504.40 L592.3,708.30 L736.6,708.30" fill="none" stroke="#333" stroke-width="1.3"/>
<line x1="590.0999999999999" y1="668.10" x2="592.3" y2="668.10" stroke="#333333" stroke-width="1"/>
<text x="0" y="0" font-size="7.35" fill="#4D4D4D" stroke="#4D4D4D" stroke-width="0.12" text-anchor="end" font-weight="normal" transform="translate(587.50,671.10) scale(1,1.1)">10</text>
<line x1="590.0999999999999" y1="616.60" x2="592.3" y2="616.60" stroke="#333333" stroke-width="1"/>
<text x="0" y="0" font-size="7.35" fill="#4D4D4D" stroke="#4D4D4D" stroke-width="0.12" text-anchor="end" font-weight="normal" transform="translate(587.50,619.60) scale(1,1.1)">20</text>
<line x1="590.0999999999999" y1="565.10" x2="592.3" y2="565.10" stroke="#333333" stroke-width="1"/>
<text x="0" y="0" font-size="7.35" fill="#4D4D4D" stroke="#4D4D4D" stroke-width="0.12" text-anchor="end" font-weight="normal" transform="translate(587.50,568.10) scale(1,1.1)">30</text>
<line x1="590.0999999999999" y1="513.60" x2="592.3" y2="513.60" stroke="#333333" stroke-width="1"/>
<text x="0" y="0" font-size="7.35" fill="#4D4D4D" stroke="#4D4D4D" stroke-width="0.12" text-anchor="end" font-weight="normal" transform="translate(587.50,516.60) scale(1,1.1)">40</text>
<line x1="626.90" y1="708.30" x2="626.90" y2="710.50" stroke="#333333" stroke-width="1"/>
<text x="0" y="0" font-size="7.35" fill="#4D4D4D" stroke="#4D4D4D" stroke-width="0.12" text-anchor="middle" font-weight="normal" transform="translate(626.90,718.90) scale(1,1.1)">0.9</text>
<line x1="664.30" y1="708.30" x2="664.30" y2="710.50" stroke="#333333" stroke-width="1"/>
<text x="0" y="0" font-size="7.35" fill="#4D4D4D" stroke="#4D4D4D" stroke-width="0.12" text-anchor="middle" font-weight="normal" transform="translate(664.30,718.90) scale(1,1.1)">1.1</text>
<line x1="701.70" y1="708.30" x2="701.70" y2="710.50" stroke="#333333" stroke-width="1"/>
<text x="0" y="0" font-size="7.35" fill="#4D4D4D" stroke="#4D4D4D" stroke-width="0.12" text-anchor="middle" font-weight="normal" transform="translate(701.70,718.90) scale(1,1.1)">1.3</text>
<text x="0" y="0" font-size="9.75" fill="#000" stroke="#000" stroke-width="0.12" text-anchor="middle" font-weight="normal" transform="translate(664.45,729.80)">DunedinPACE (year/chronological year)</text>
<text x="0" y="0" font-size="9.8" fill="#000" stroke="#000" stroke-width="0.12" text-anchor="middle" font-weight="normal" transform="translate(574.70,606.55) rotate(-90)">Mean life expectancy at age 70 (years)</text>
</g></svg>
</body></html>
